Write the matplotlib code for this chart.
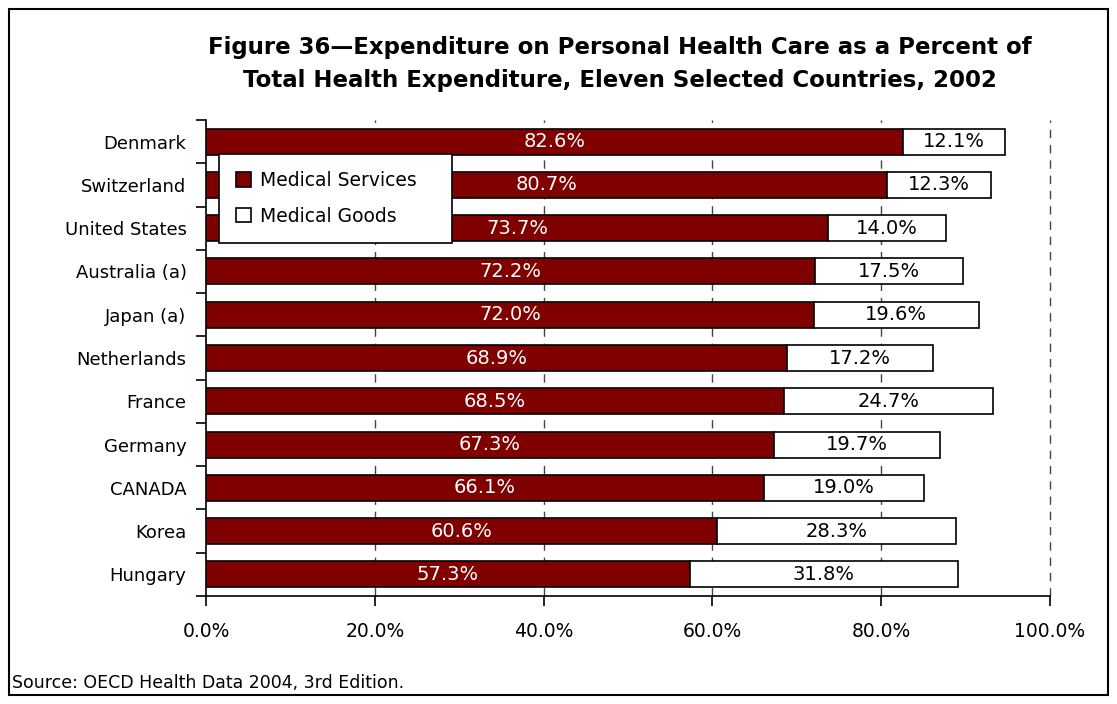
import numpy as np
import matplotlib
matplotlib.use("Agg")
import matplotlib.pyplot as plt
from matplotlib.patches import Rectangle

# data
countries = ["Denmark", "Switzerland", "United States", "Australia (a)", "Japan (a)",
             "Netherlands", "France", "Germany", "CANADA", "Korea", "Hungary"]
services = [82.6, 80.7, 73.7, 72.2, 72.0, 68.9, 68.5, 67.3, 66.1, 60.6, 57.3]
goods = [12.1, 12.3, 14.0, 17.5, 19.6, 17.2, 24.7, 19.7, 19.0, 28.3, 31.8]
xticks = [0, 20, 40, 60, 80, 100]

plt.rcParams['font.family'] = ['DejaVu Sans']

fig = plt.figure(figsize=(11.17, 7.04), dpi=100)
ax = fig.add_axes([0.1844, 0.1534, 0.7556, 0.6761])

y = np.arange(len(countries))
h = 0.6
ax.barh(y, services, height=h, color="#800000", edgecolor="black", linewidth=1.2,
        label="Medical Services", zorder=3)
ax.barh(y, goods, left=services, height=h, color="white", edgecolor="black",
        linewidth=1.2, label="Medical Goods", zorder=3)

for i in range(len(countries)):
    ax.text(services[i] / 2, y[i], f"{services[i]:.1f}%", ha="center", va="center",
            color="white", fontsize=14, zorder=4)
    ax.text(services[i] + goods[i] / 2, y[i], f"{goods[i]:.1f}%", ha="center",
            va="center", color="black", fontsize=14, zorder=4)

ax.set_xlim(0, 100)
ax.set_ylim(len(countries) - 0.5, -0.5)
ax.set_yticks(np.arange(len(countries) + 1) - 0.5, minor=False)
ax.set_yticklabels([])
ax.set_yticks(y, minor=True)
ax.set_yticklabels(countries, minor=True, fontsize=13)
ax.tick_params(axis="y", which="minor", length=0, pad=14)
ax.tick_params(axis="y", which="major", length=7, width=1.2, direction="out")
ax.set_xticks(xticks)
ax.set_xticklabels([f"{v:.1f}%" for v in xticks], fontsize=13.5)
ax.tick_params(axis="x", length=7, width=1.2, direction="out", pad=12)

for v in xticks[1:]:
    ax.axvline(v, color="#444444", linestyle=(0, (6, 5)), linewidth=1, zorder=1,
               clip_on=False)

ax.spines["top"].set_visible(False)
ax.spines["right"].set_visible(False)
ax.spines["left"].set_linewidth(1.2)
ax.spines["bottom"].set_linewidth(1.2)

leg = ax.legend(loc="upper left", bbox_to_anchor=(0.0154, 0.74, 0.276, 0.1886),
                mode="expand", borderaxespad=0,
                fontsize=13.5, frameon=True, fancybox=False, edgecolor="black",
                framealpha=1, handlelength=0.8, handleheight=0.8, labelspacing=0.9,
                borderpad=0.9, handletextpad=0.5)
leg.get_frame().set_linewidth(1.2)
leg.set_zorder(5)

fig.text(0.555, 0.932, "Figure 36\u2014Expenditure on Personal Health Care as a Percent of",
         ha="center", va="center", fontsize=16.5, fontweight="bold")
fig.text(0.555, 0.886, "Total Health Expenditure, Eleven Selected Countries, 2002",
         ha="center", va="center", fontsize=16.5, fontweight="bold")
fig.text(0.011, 0.030, "Source: OECD Health Data 2004, 3rd Edition.", ha="left",
         va="center", fontsize=12.5)

fig.patches.append(Rectangle((0.008, 0.013), 0.984, 0.974, transform=fig.transFigure,
                             fill=False, edgecolor="black", linewidth=1.5))

fig.savefig("out.png", dpi=100)
